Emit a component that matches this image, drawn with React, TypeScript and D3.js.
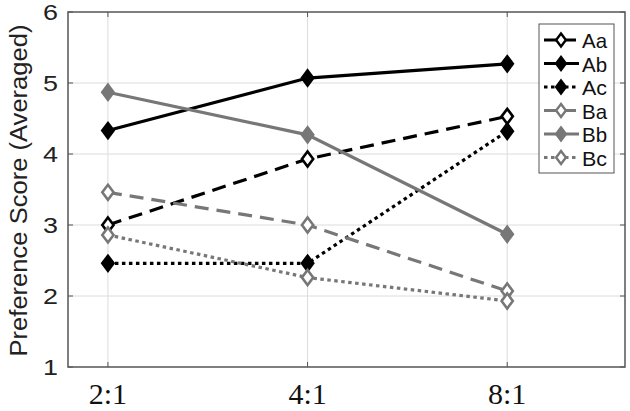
import React from "react";
import * as d3 from "d3";

const categories = ["2:1", "4:1", "8:1"];
const seriesNames = ["Aa", "Ab", "Ac", "Ba", "Bb", "Bc"];
const valuesAa = [3.0, 3.93, 4.53];
const valuesAb = [4.33, 5.07, 5.27];
const valuesAc = [2.46, 2.46, 4.32];
const valuesBa = [3.46, 3.0, 2.07];
const valuesBb = [4.87, 4.27, 2.87];
const valuesBc = [2.86, 2.26, 1.93];
const yTicks = [1, 2, 3, 4, 5, 6];

const seriesValues = [valuesAa, valuesAb, valuesAc, valuesBa, valuesBb, valuesBc];
const styles = [
  { color: "#000", dash: "14,8", fill: "#fff" },
  { color: "#000", dash: "", fill: "#000" },
  { color: "#000", dash: "3.5,3.5", fill: "#000" },
  { color: "#777", dash: "14,8", fill: "#fff" },
  { color: "#777", dash: "", fill: "#777" },
  { color: "#777", dash: "3.5,3.5", fill: "#fff" },
];

export default function App() {
  const W = 630, H = 411;
  const L = 68, R = 625, T = 12, B = 367;
  const x = d3.scaleLinear().domain([-0.2, 2.59]).range([L, R]);
  const y = d3.scaleLinear().domain([1, 6]).range([B, T]);
  const line = d3.line<number>().x((_, i) => x(i)).y((d) => y(d));
  const diamond = (cx: number, cy: number, r: number) =>
    `M${cx},${cy - r}L${cx + r * 0.75},${cy}L${cx},${cy + r}L${cx - r * 0.75},${cy}Z`;

  const legX = 539, legY = 24, legW = 75, legH = 149;
  const rowH = 23.5;

  return (
    <svg width={W} height={H} style={{ position: "absolute", left: 0, top: 0, background: "#fff" }}>
      <rect x={0} y={0} width={W} height={H} fill="#fff" />
      {/* grid */}
      {yTicks.slice(1, -1).map((t) => (
        <line key={"gy" + t} x1={L} x2={R} y1={y(t)} y2={y(t)} stroke="#dcdcdc" strokeWidth={1} />
      ))}
      {categories.map((c, i) => (
        <line key={"gx" + c} x1={x(i)} x2={x(i)} y1={T} y2={B} stroke="#dcdcdc" strokeWidth={1} />
      ))}
      {/* ticks */}
      {categories.map((c, i) => (
        <g key={"tx" + c}>
          <line x1={x(i)} x2={x(i)} y1={B} y2={B - 5} stroke="#555" strokeWidth={1} />
          <line x1={x(i)} x2={x(i)} y1={T} y2={T + 5} stroke="#555" strokeWidth={1} />
        </g>
      ))}
      {yTicks.map((t) => (
        <g key={"ty" + t}>
          <line x1={L} x2={L + 5} y1={y(t)} y2={y(t)} stroke="#555" strokeWidth={1} />
          <line x1={R} x2={R - 5} y1={y(t)} y2={y(t)} stroke="#555" strokeWidth={1} />
        </g>
      ))}
      <rect x={L} y={T} width={R - L} height={B - T} fill="none" stroke="#555" strokeWidth={1.5} />
      {/* tick labels */}
      {yTicks.map((t) => (
        <text key={"yl" + t} x={L - 10} y={y(t) + 8} textAnchor="end" fontFamily="Liberation Sans, Arial, sans-serif" fontSize={22} textLength={15} lengthAdjust="spacingAndGlyphs" fill="#222">
          {t}
        </text>
      ))}
      {categories.map((c, i) => (
        <text key={"xl" + c} x={x(i)} y={404} textAnchor="middle" fontFamily="Liberation Serif, Times New Roman, serif" fontSize={30} fill="#111">
          {c}
        </text>
      ))}
      <text transform={`translate(27,${(T + B) / 2 + 1}) rotate(-90)`} textAnchor="middle" fontFamily="Liberation Sans, Arial, sans-serif" fontSize={23} textLength={332} lengthAdjust="spacingAndGlyphs" fill="#222">
        Preference Score (Averaged)
      </text>
      {/* series */}
      {seriesValues.map((vals, si) => (
        <g key={"s" + si}>
          <path d={line(vals) || ""} fill="none" stroke={styles[si].color} strokeWidth={3.2} strokeDasharray={styles[si].dash} />
          {vals.map((v, i) => (
            <path key={i} d={diamond(x(i), y(v), 7.5)} fill={styles[si].fill === "#fff" ? "#fff" : styles[si].color} stroke={styles[si].color} strokeWidth={2.6} />
          ))}
        </g>
      ))}
      {/* legend */}
      <rect x={legX} y={legY} width={legW} height={legH} fill="#fff" stroke="#555" strokeWidth={1} />
      {seriesNames.map((n, i) => {
        const cy = legY + 16 + i * rowH;
        const s = styles[i];
        return (
          <g key={"lg" + n}>
            <line x1={legX + 5} x2={legX + 40} y1={cy} y2={cy} stroke={s.color} strokeWidth={3.2} strokeDasharray={s.dash ? (s.dash === "14,8" ? "13,6" : s.dash) : ""} />
            <path d={diamond(legX + 22, cy, 6.5)} fill={s.fill === "#fff" ? "#fff" : s.color} stroke={s.color} strokeWidth={2.4} />
            <text x={legX + 43} y={cy + 8} fontFamily="Liberation Sans, Arial, sans-serif" fontSize={21} textLength={25} lengthAdjust="spacingAndGlyphs" fill="#111">
              {n}
            </text>
          </g>
        );
      })}
    </svg>
  );
}
